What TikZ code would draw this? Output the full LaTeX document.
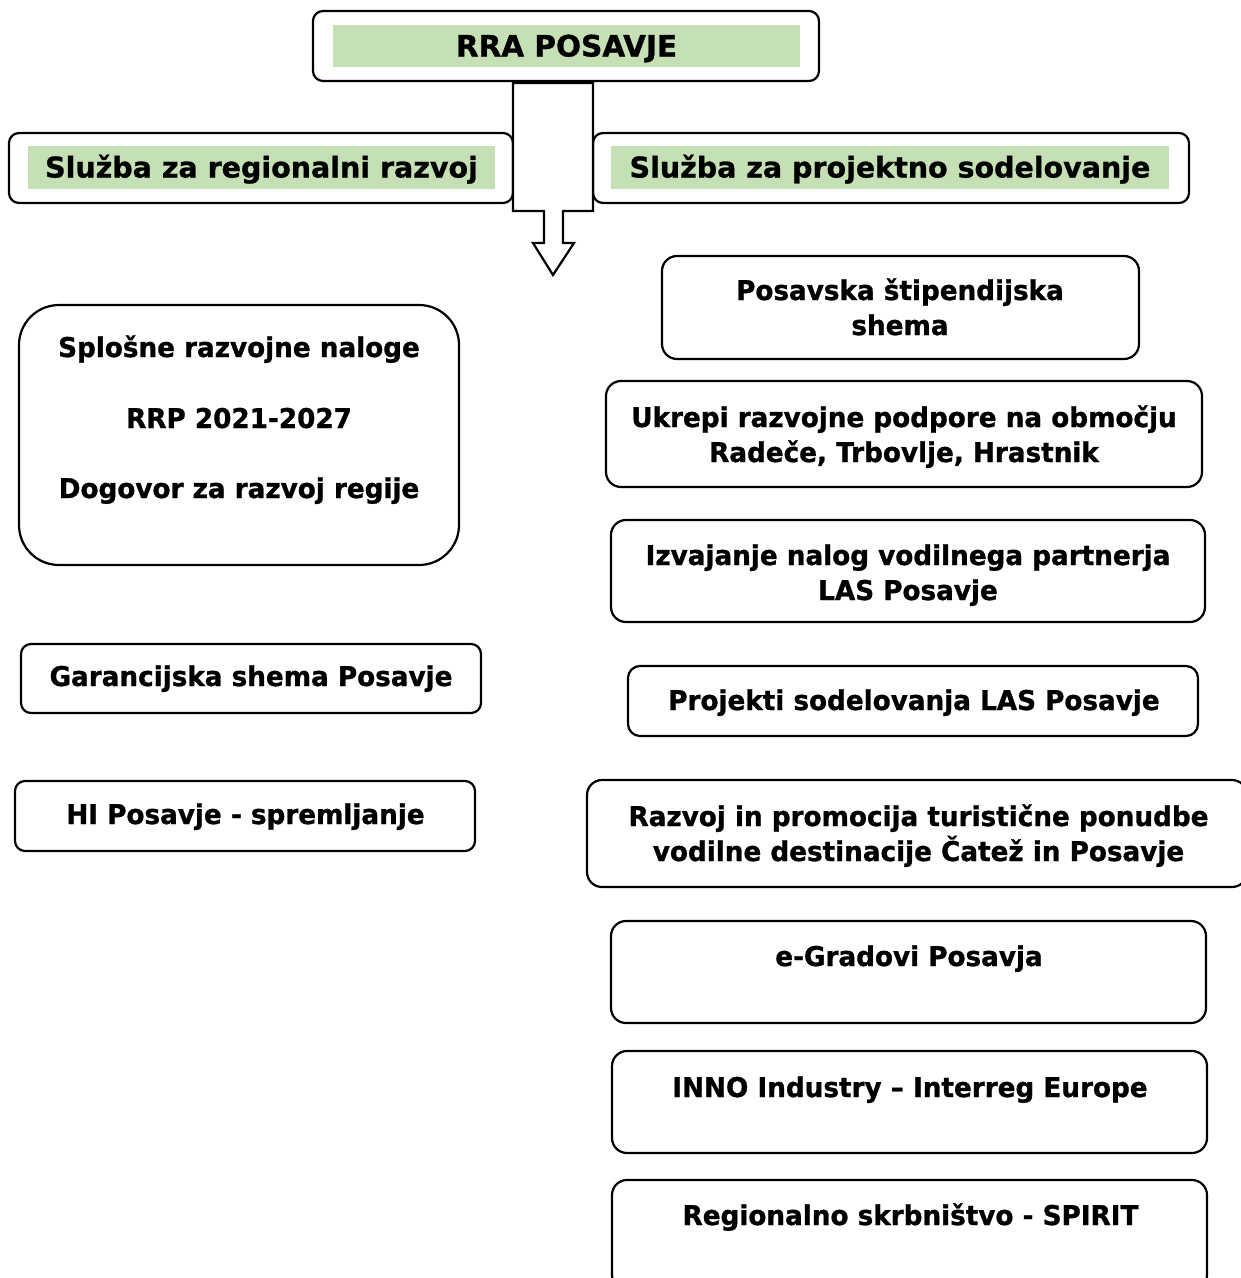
\documentclass[tikz,border=0pt]{standalone}
\usepackage{fontspec}
\newfontfamily\tfont{DejaVu Sans}[BoldFeatures={FakeBold=1.0, FakeStretch=0.965}]
\newfontfamily\hfont{DejaVu Sans}[BoldFeatures={FakeBold=1.0}]
\definecolor{greenfill}{HTML}{C5E0B4}
\begin{document}
\begin{tikzpicture}[x=1pt,y=-1pt,
  box/.style={draw, line width=2.2pt, rounded corners=10pt, fill=white, inner sep=0pt},
  gbar/.style={fill=greenfill, draw=none, inner sep=0pt},
  txt/.style={font=\tfont\bfseries\fontsize{27.2}{35}\selectfont, align=center, inner sep=0pt, anchor=base},
  htxt/.style={font=\hfont\bfseries\fontsize{28.5}{35}\selectfont, align=center, inner sep=0pt, anchor=base},
  ttxt/.style={font=\hfont\bfseries\fontsize{29.5}{35}\selectfont, align=center, inner sep=0pt, anchor=base}]
\useasboundingbox (0,0) rectangle (1241,1278);
% top
\node[box, minimum width=506, minimum height=70] (top) at (566,46) {};
\node[gbar, minimum width=467, minimum height=42] (topg) at (566.5,46) {};
\node[ttxt] (toptxt) at (566.5,56.5) {RRA POSAVJE};
% service boxes
\node[box, minimum width=504, minimum height=70] (lsvc) at (261,168) {};
\node[gbar, minimum width=467, minimum height=43] (lsvcg) at (261.5,167.5) {};
\node[htxt] (lsvctxt) at (261.5,177.5) {Služba za regionalni razvoj};
\node[box, minimum width=596, minimum height=70] (rsvc) at (891,168) {};
\node[gbar, minimum width=558, minimum height=43] (rsvcg) at (890,167.5) {};
\node[htxt] (rsvctxt) at (890,177.5) {Služba za projektno sodelovanje};
% arrow
\draw[line width=2.2pt, fill=white, line join=miter]
  (513,83) -- (593,83) -- (593,211) -- (563,211) -- (563,243) -- (574,243) -- (553,275)
  -- (533,243) -- (544,243) -- (544,211) -- (513,211) -- cycle;
% left column
\node[box, rounded corners=40pt, minimum width=440, minimum height=260] (lbig) at (239,435) {};
\node[txt] (l1) at (239,357) {Splošne razvojne naloge};
\node[txt] (l2) at (239,428) {RRP 2021-2027};
\node[txt] (l3) at (239,498) {Dogovor za razvoj regije};
\node[box, minimum width=460, minimum height=69] (gar) at (251,678.5) {};
\node[txt] (gartxt) at (251,686) {Garancijska shema Posavje};
\node[box, minimum width=460, minimum height=70] (hi) at (245,816) {};
\node[txt] (hitxt) at (245.5,824) {HI Posavje - spremljanje};
% right column
\node[box, rounded corners=15pt, minimum width=477, minimum height=103] (pos) at (900.5,307.5) {};
\node[txt] (postxt) at (900,335) {Posavska štipendijska\\shema};
\node[box, rounded corners=15pt, minimum width=596, minimum height=106] (ukr) at (904,434) {};
\node[txt] (ukrtxt) at (904,462) {Ukrepi razvojne podpore na območju\\Radeče, Trbovlje, Hrastnik};
\node[box, rounded corners=15pt, minimum width=594, minimum height=102] (izv) at (908,571) {};
\node[txt] (izvtxt) at (908,600) {Izvajanje nalog vodilnega partnerja\\LAS Posavje};
\node[box, rounded corners=12pt, minimum width=570, minimum height=70] (proj) at (913,701) {};
\node[txt] (projtxt) at (914,710) {Projekti sodelovanja LAS Posavje};
\node[box, rounded corners=15pt, minimum width=660, minimum height=107] (razv) at (917,833.5) {};
\node[txt] (razvtxt) at (918.5,861) {Razvoj in promocija turistične ponudbe\\vodilne destinacije Čatež in Posavje};
\node[box, rounded corners=15pt, minimum width=595, minimum height=102] (egr) at (908.5,972) {};
\node[txt] (egrtxt) at (909,966) {e-Gradovi Posavja};
\node[box, rounded corners=15pt, minimum width=595, minimum height=102] (inno) at (909.5,1102) {};
\node[txt] (innotxt) at (910,1097) {INNO Industry – Interreg Europe};
\node[box, rounded corners=15pt, minimum width=595, minimum height=110] (reg) at (909.5,1235) {};
\node[txt] (regtxt) at (910.5,1225) {Regionalno skrbništvo - SPIRIT};
\end{tikzpicture}
\end{document}
